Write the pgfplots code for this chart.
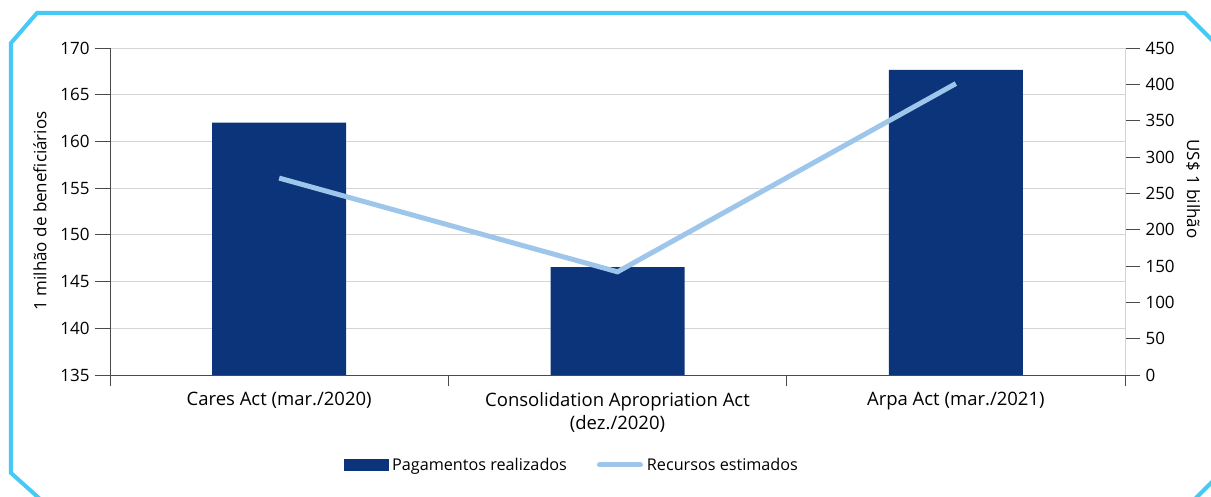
\documentclass[border=0pt]{standalone}
\usepackage{pgfplots}
\pgfplotsset{compat=1.18}
\usetikzlibrary{calc}
\usepackage{fontspec}
\setmainfont{Open Sans}
\definecolor{navy}{HTML}{0B347A}
\definecolor{lblue}{HTML}{9EC6EA}
\definecolor{frame}{HTML}{45C9F5}
\definecolor{gridc}{HTML}{D4D4D4}
\definecolor{axc}{HTML}{4A4A4A}
\begin{document}
\begin{tikzpicture}
\begin{axis}[
  name=a,
  at={(0pt,0pt)}, anchor=south west,
  scale only axis, width=1015pt, height=327pt,
  xmin=-0.5, xmax=2.5, ymin=135, ymax=170,
  ytick={135,140,...,170},
  axis y line*=left, axis x line*=bottom,
  axis line style={axc, line width=0.8pt},
  xtick={0,1,2},
  xticklabels={Cares Act (mar./2020),{Consolidation Apropriation Act\\(dez./2020)},Arpa Act (mar./2021)},
  xticklabel style={align=center, font=\fontsize{18.5}{23}\selectfont, yshift=1pt},
  major x tick style={draw=none},
  minor xtick={-0.5,0.5,1.5,2.5},
  minor x tick style={axc, line width=0.8pt},
  minor tick length=11pt,
  tick align=outside,
  major tick length=15pt,
  y tick style={axc, line width=0.8pt},
  yticklabel style={font=\fontsize{17}{20}\selectfont, xshift=-2pt},
  /pgf/number format/assume math mode=true,
  ymajorgrids, grid style={gridc, line width=0.8pt},
  clip=true,
]
\addplot[ybar, bar width=134pt, fill=navy, draw=none] coordinates {(0,162.0) (1,146.55) (2,167.65)};
\end{axis}
\coordinate (O) at ($(a.south west)+(-110pt,-122pt)$);
\node[rotate=90, font=\fontsize{17}{20}\selectfont] at ($(O)+(40pt,286pt)$) {1 milhão de beneficiários};
\node[rotate=-90, font=\fontsize{17}{20}\selectfont] at ($(O)+(1193pt,308pt)$) {US\$ 1 bilhão};
\begin{axis}[
  at={(a.south west)}, anchor=south west,
  scale only axis, width=1015pt, height=327pt,
  xmin=-0.5, xmax=2.5, ymin=0, ymax=450,
  ytick={0,50,...,450},
  axis y line*=right, axis x line=none,
  axis line style={gridc, line width=0.8pt},
  tick align=outside,
  major tick length=15pt,
  y tick style={axc, line width=0.8pt},
  yticklabel style={font=\fontsize{17}{20}\selectfont, xshift=2pt},
  /pgf/number format/assume math mode=true,
  clip=false,
  legend style={at={(axis description cs:0.456,-0.275)}, anchor=center, draw=none, fill=none,
    font=\fontsize{16.2}{20}\selectfont, legend columns=2,
    nodes={inner xsep=4pt},
    /tikz/every even column/.append style={column sep=26pt}},
  legend cell align=left,
]
\addlegendimage{legend image code/.code={\fill[navy] (0pt,-5.5pt) rectangle (44pt,5.5pt);}}
\addlegendentry{Pagamentos realizados}
\addlegendimage{legend image code/.code={\draw[lblue, line width=5pt, line cap=round] (2pt,0pt) -- (43pt,0pt);}}
\addlegendentry{Recursos estimados}
\addplot[lblue, line width=5pt, mark=none] coordinates {(0,271) (1,142) (2,401)};
\end{axis}
\begin{scope}[shift={(O)}]
\clip (0pt,0pt) rectangle (1211pt,497pt);
\draw[frame, line width=4pt, line join=miter]
  (40pt,-2pt) -- (11pt,24pt) -- (11pt,454pt) -- (37pt,484pt) -- (1185pt,484pt) -- (1214pt,455pt) -- (1214pt,17pt) -- (1195pt,-2pt);
\end{scope}
\pgfresetboundingbox
\path[use as bounding box] (O) rectangle ($(O)+(1211pt,497pt)$);
\end{tikzpicture}
\end{document}
